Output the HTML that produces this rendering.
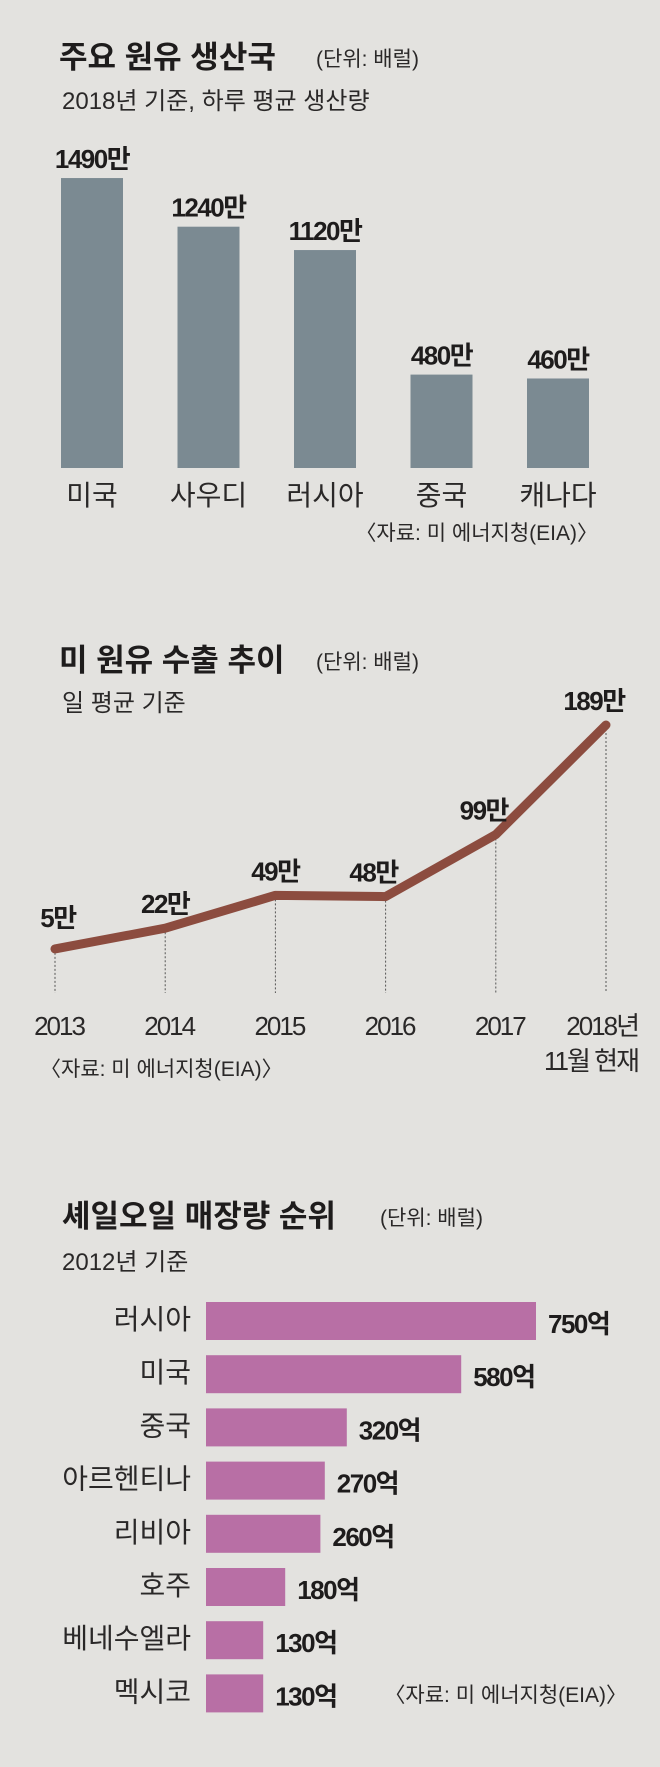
<!DOCTYPE html>
<html><head><meta charset="utf-8"><style>
html,body{margin:0;padding:0;background:#e3e2df;}
svg{display:block;font-family:"Liberation Sans","Noto Sans CJK KR",sans-serif;}
.t{font-weight:bold;font-size:31px;fill:#1e1c1c}
.u{font-size:21px;fill:#2a2828}
.s{font-size:24px;fill:#2a2828}
.v{font-weight:bold;font-size:26px;fill:#1e1c1c;letter-spacing:-1.5px}
.c{font-size:28px;fill:#2a2828}
.src{font-size:21px;fill:#2a2828}
.y{font-size:26px;fill:#2a2828;letter-spacing:-2px}
</style></head><body>
<svg id="chart" width="660" height="1767" viewBox="0 0 660 1767">
<rect width="660" height="1767" fill="#e3e2df"/>
<g>
<text x="59" y="68" class="t">주요 원유 생산국</text>
<text x="316" y="66" class="u">(단위: 배럴)</text>
<text x="62" y="109" class="s">2018년 기준, 하루 평균 생산량</text>
<g id="bars1"></g>
<text x="598" y="540" class="src" text-anchor="end">〈자료: 미 에너지청(EIA)〉</text>
</g>
<g>
<text x="59" y="671" class="t">미 원유 수출 추이</text>
<text x="316" y="669" class="u">(단위: 배럴)</text>
<text x="62" y="711" class="s">일 평균 기준</text>
<g id="line2"></g>
<text x="40" y="1076" class="src">〈자료: 미 에너지청(EIA)〉</text>
</g>
<g>
<text x="62" y="1227" class="t">셰일오일 매장량 순위</text>
<text x="380" y="1225" class="u">(단위: 배럴)</text>
<text x="62" y="1270" class="s">2012년 기준</text>
<g id="bars3"></g>
<text x="627" y="1702" class="src" text-anchor="end">〈자료: 미 에너지청(EIA)〉</text>
</g>
</svg>
<script>
const prodCountries = ["미국","사우디","러시아","중국","캐나다"];
const prodValues = [1490,1240,1120,480,460];
const prodLabels = ["1490만","1240만","1120만","480만","460만"];
const exportYears = ["2013","2014","2015","2016","2017","2018년"];
const exportValues = [5,22,49,48,99,189];
const exportLabels = ["5만","22만","49만","48만","99만","189만"];
const shaleCountries = ["러시아","미국","중국","아르헨티나","리비아","호주","베네수엘라","멕시코"];
const shaleValues = [750,580,320,270,260,180,130,130];
const shaleLabels = ["750억","580억","320억","270억","260억","180억","130억","130억"];

const NS = "http://www.w3.org/2000/svg";
function mk(tag, attrs, parent, txt){
  const e = document.createElementNS(NS, tag);
  for (const k in attrs) e.setAttribute(k, attrs[k]);
  if (txt !== undefined) e.textContent = txt;
  parent.appendChild(e);
  return e;
}
// Chart 1
const g1 = document.getElementById("bars1");
const x1 = i => 61 + i * 116.5;
const y1 = v => 468 - v * 0.1946;
prodValues.forEach((v, i) => {
  const r = mk("rect", {x: x1(i), y: y1(v), width: 62, height: 468 - y1(v), fill: "#7b8a92"}, g1);
  
  
  const t = mk("text", {x: x1(i) + 31, y: y1(v) - 10, "text-anchor": "middle", class: "v"}, g1, prodLabels[i]);
  
  
  const c = mk("text", {x: x1(i) + 31, y: 505, "text-anchor": "middle", class: "c"}, g1, prodCountries[i]);
  
  
});
// Chart 2
const g2 = document.getElementById("line2");
const x2 = i => 55 + i * 110.2;
const y2 = v => 955 - v * 1.217;
exportValues.forEach((v, i) => {
  const d = mk("line", {x1: x2(i), y1: y2(v), x2: x2(i), y2: 993, stroke: "#555", "stroke-width": 1, "stroke-dasharray": "2,2"}, g2);
  
  
});
const pts = exportValues.map((v, i) => x2(i) + "," + y2(v)).join(" ");
const pl = mk("polyline", {points: pts, fill: "none", stroke: "#8c4c3f", "stroke-width": 9, "stroke-linecap": "round", "stroke-linejoin": "round"}, g2);


exportValues.forEach((v, i) => {
  const last = i === exportValues.length - 1;
  const t = mk("text", {x: x2(i) + (i === 0 ? 3 : (i >= 3 ? -12 : 0)), y: y2(v) - (i === 0 ? 22 : 15), "text-anchor": "middle", class: "v"}, g2, exportLabels[i]);
  
  
  const yl = mk("text", {x: last ? 638 : x2(i) + 4, y: 1035, "text-anchor": last ? "end" : "middle", class: "y"}, g2, exportYears[i]);
  
  
  if (last) {
    const n = mk("text", {x: 638, y: 1070, "text-anchor": "end", class: "y"}, g2, "11월 현재");
    
    
  }
});
// Chart 3
const g3 = document.getElementById("bars3");
const yr = i => 1302 + i * 53.2;
const w3 = v => v * 0.44;
shaleValues.forEach((v, i) => {
  const r = mk("rect", {x: 206, y: yr(i), width: w3(v), height: 38, fill: "#b86fa5"}, g3);
  
  
  const c = mk("text", {x: 191, y: yr(i) + 27, "text-anchor": "end", class: "c"}, g3, shaleCountries[i]);
  
  
  const t = mk("text", {x: 206 + w3(v) + 12, y: yr(i) + 31, class: "v"}, g3, shaleLabels[i]);
  
  
});
</script>
</body></html>
